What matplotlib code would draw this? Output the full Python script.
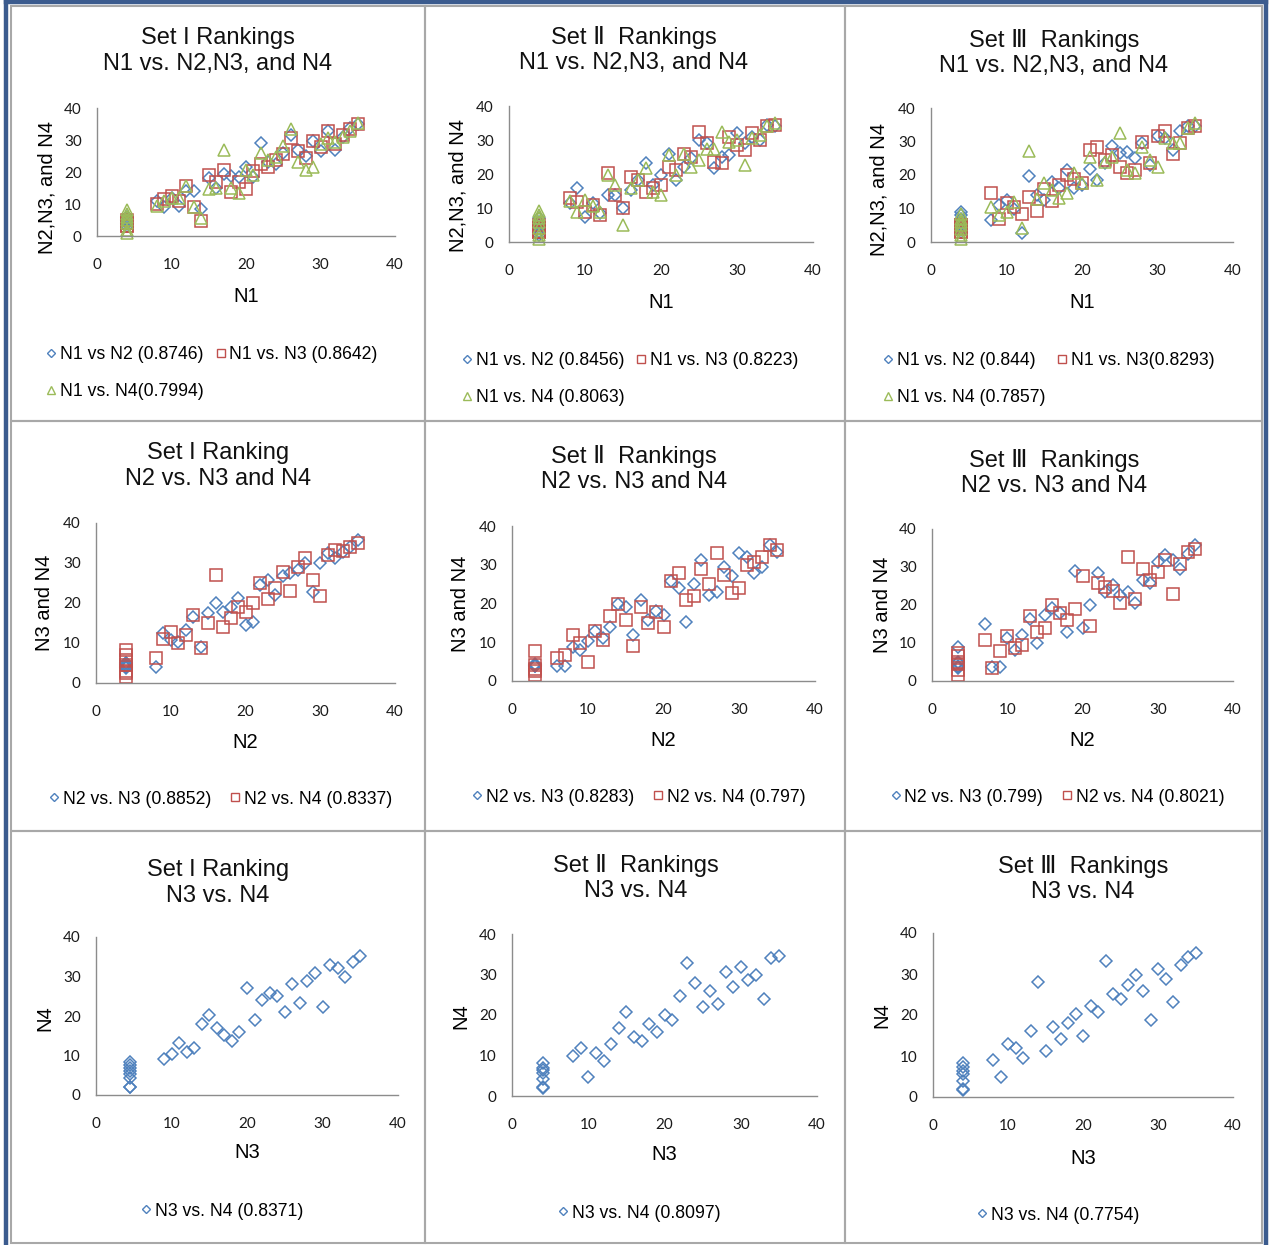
import matplotlib
matplotlib.use('Agg')
import matplotlib.pyplot as plt
from matplotlib.patches import Rectangle
from matplotlib.lines import Line2D

# ---------------- data (rankings) ----------------
# row 1 : N1 vs N2, N3, N4
set1_n1 = [4, 4, 4, 4, 4, 4, 4, 8, 9, 10, 11, 12, 13, 14, 15, 16, 17, 18, 19, 20, 21,
           22, 23, 24, 25, 26, 27, 28, 29, 30, 31, 32, 33, 34, 35]
set1_n1_n2 = [6, 5, 5, 4, 4, 3, 5, 11, 9, 12, 9.5, 14, 14, 8.5, 18, 15, 19.5, 18.7, 18.5, 21.5,
              18.5, 29, 23, 22.6, 26, 31.6, 27, 25, 29.7, 26.6, 32.8, 27, 31, 33.8, 35]
set1_n1_n3 = [4, 3, 4, 5, 3, 4, 4, 10, 11.5, 12.5, 11, 15.6, 9, 4.7, 19, 17, 20.5, 13.7, 17, 14.7,
              20.3, 22.6, 21.5, 23.6, 25.7, 30.7, 26.6, 24.5, 29.7, 27.8, 32.8, 28.8, 31.6, 33.3, 34.9]
set1_n1_n4 = [8, 7, 6, 5, 4, 2, 1, 9.4, 11, 12, 12, 15.6, 9, 5.7, 14.6, 15, 26.8, 15, 13.5, 20.5,
              19, 26, 23.6, 24.7, 28, 33.3, 23, 20.5, 21.5, 28.8, 30.7, 29.3, 31, 32.8, 35.4]

set2_n1 = [4, 4, 4, 4, 4, 4, 4, 8, 9, 10, 11, 12, 13, 14, 15, 16, 17, 18, 19, 20, 21,
           22, 23, 24, 25, 26, 27, 28, 29, 30, 31, 32, 33, 34, 35]
set2_n1_n2 = [7, 6, 5, 4, 3, 3, 2, 11.4, 15.8, 7.5, 11.4, 8.4, 13.8, 13.8, 9.9, 15.3, 18.2, 23.1, 16.8,
              19.7, 26, 18.2, 22, 24.6, 30, 29, 21.7, 25, 25.6, 32, 29, 31, 30, 34.4, 34]
set2_n1_n3 = [5, 4, 4, 3, 3, 4, 3, 12.8, 11.9, 8.9, 10.9, 7.9, 20.2, 13.8, 9.9, 19.2, 18.2, 14.8, 15.8,
              16.8, 22.2, 21.2, 26, 25, 32.5, 29, 23.6, 23.1, 31, 28.5, 27, 32, 30, 34, 34.4]
set2_n1_n4 = [9, 8, 7, 6, 4, 2, 1, 12, 8.9, 12.4, 10.5, 8.9, 19.7, 16.8, 5, 15.8, 18.2, 21.7, 14.8,
              13.8, 25.6, 19.7, 26, 22.2, 24, 27.5, 27.5, 32.5, 29.5, 30, 22.6, 30.5, 31.5, 34, 35]

set3_n1 = [4, 4, 4, 4, 4, 4, 4, 8, 9, 10, 11, 12, 13, 14, 15, 16, 17, 18, 19, 20, 21,
           22, 23, 24, 25, 26, 27, 28, 29, 30, 31, 32, 33, 34, 35]
set3_n1_n2 = [9, 8, 7, 6, 5, 4, 3, 6.5, 11, 12.5, 10, 2.8, 19.8, 14, 12.5, 18, 16, 21.5, 16, 17,
              21.7, 18.5, 23.5, 28.8, 26.5, 27, 25, 29.5, 23, 31.5, 31, 27.5, 33, 34.5, 34.5]
set3_n1_n3 = [5, 4.5, 4, 3, 4, 3, 5, 14.7, 7, 11.7, 10.5, 8.5, 13.3, 9.2, 15.8, 12.2, 17, 20, 18.8,
              17.7, 27.5, 28.5, 24.5, 26, 22.5, 20.5, 21.5, 30, 23.5, 31.5, 33, 26.3, 29.7, 34, 34.7]
set3_n1_n4 = [8.5, 7, 6, 5, 4, 2, 1, 10.5, 8, 9, 12, 4.2, 27.3, 12.7, 17.5, 15.5, 13, 14.5, 20.5,
              17.5, 25.5, 18.5, 23.8, 25.5, 32.5, 21.5, 20.5, 28.5, 24.5, 22.5, 31, 29.5, 29.7, 34, 35.5]

# row 2 : N2 vs N3, N4
set1_n2 = [4, 4, 4, 4, 4, 4, 4, 8, 9, 10, 11, 12, 13, 14, 15, 16, 17, 18, 19, 20, 21,
           22, 23, 24, 25, 26, 27, 28, 29, 30, 31, 32, 33, 34, 35]
set1_n2_n3 = [5, 4.5, 4, 4, 3.7, 5, 4.5, 4, 12.4, 10.7, 10.3, 13.2, 16.6, 9, 17.4, 20, 17.8, 19,
              21.2, 14.5, 15.3, 24.5, 25.7, 22, 26.7, 27.4, 28.2, 30, 22.8, 30, 32.4, 31.2, 32.8, 34, 35.8]
set1_n2_n4 = [8.2, 7, 5.7, 4.5, 3, 1.6, 2.5, 6.2, 11, 12.8, 10, 12, 17, 8.7, 15, 27, 14, 16.2,
              19, 17.8, 20, 25, 21, 23.7, 27.8, 23, 29, 31.2, 25.7, 21.7, 32, 33.2, 33, 34, 35]

set2_n2 = [3, 3, 3, 3, 3, 6, 7, 8, 9, 10, 11, 12, 13, 14, 15, 16, 17, 18, 19, 20, 21,
           22, 23, 24, 25, 26, 27, 28, 29, 30, 31, 32, 33, 34, 35]
set2_n2_n3 = [4.2, 4.5, 4, 3.8, 4.2, 3.8, 3.8, 8.9, 8, 10.2, 12.8, 11, 14, 20, 19.2, 12, 21, 15.8,
              18, 17, 25.7, 24, 15.1, 25, 31.2, 22.2, 23, 29.4, 27.2, 33, 32, 27.8, 29.5, 35, 33.4]
set2_n2_n4 = [7.8, 4.2, 1.6, 3, 2.5, 5.9, 6.8, 12, 9.8, 4.8, 12.8, 10.6, 16.8, 20, 15.8, 9.1, 19, 15,
              17.7, 14, 25.7, 27.8, 21, 22, 29, 25, 33, 27.4, 22.8, 24, 30, 30.8, 32, 35, 33.8]

set3_n2 = [3.5, 3.5, 3.5, 3.5, 3.5, 3.5, 7, 8, 9, 10, 11, 12, 13, 14, 15, 16, 17, 18, 19, 20, 21,
           22, 23, 24, 25, 26, 27, 28, 29, 30, 31, 32, 33, 34, 35]
set3_n2_n3 = [9, 4.7, 3.4, 4, 3.8, 5, 15, 3.8, 3.8, 11.3, 8.2, 12.1, 16.2, 10, 17.4, 19.1, 17.8, 13,
              28.9, 13.9, 20, 28.3, 23.3, 25.2, 22.6, 23.3, 20.4, 26.7, 25.7, 31.2, 33.1, 31.8, 29.6, 33.5, 35.7]
set3_n2_n4 = [7.3, 6.5, 5, 1.7, 3, 4.5, 10.8, 3.4, 8, 11.9, 8.6, 9.5, 17, 13, 13.9, 20, 17.8, 16,
              19, 27.7, 14.6, 25.7, 24.8, 23.7, 20.6, 32.7, 21.7, 29.6, 26.5, 28.7, 31.8, 22.8, 30.9, 34, 34.8]

# row 3 : N3 vs N4
set1_n3 = [4.5, 4.5, 4.5, 4.5, 4.5, 4.5, 4.5, 4.5, 9, 10, 11, 12, 13, 14, 15, 16, 17, 18, 19, 20,
           21, 22, 23, 24, 25, 26, 27, 28, 29, 30, 31, 32, 33, 34, 35]
set1_n3_n4 = [8.4, 7.5, 6.8, 6, 5.2, 4.4, 2, 1.9, 9, 10.3, 13.2, 10.9, 11.8, 18.1, 20.3, 17, 15.2,
              13.7, 16, 27.2, 19, 24, 25.8, 25.1, 21.1, 28.1, 23.2, 28.9, 30.8, 22.4, 32.8, 32.1, 30, 33.6, 35.1]

set2_n3 = [4, 4, 4, 4, 4, 4, 4, 8, 9, 10, 11, 12, 13, 14, 15, 16, 17, 18, 19, 20, 21,
           22, 23, 24, 25, 26, 27, 28, 29, 30, 31, 32, 33, 34, 35]
set2_n3_n4 = [8.1, 6.8, 6.4, 5.6, 4.1, 2.1, 1.9, 9.9, 11.8, 4.8, 10.7, 8.7, 12.8, 16.7, 20.8, 14.6,
              13.7, 17.9, 15.9, 20, 18.8, 24.8, 32.8, 27.8, 21.9, 25.9, 22.7, 30.7, 27, 31.9, 28.6, 29.9, 24, 34, 34.6]

set3_n3 = [4, 4, 4, 4, 4, 4, 4, 8, 9, 10, 11, 12, 13, 14, 15, 16, 17, 18, 19, 20, 21,
           22, 23, 24, 25, 26, 27, 28, 29, 30, 31, 32, 33, 34, 35]
set3_n3_n4 = [8.3, 7.3, 6.3, 5.7, 3.8, 2, 1.6, 9.1, 5, 13, 12, 9.5, 16, 28, 11.1, 17, 14.1, 18, 20.2,
              15, 22.1, 20.7, 33.1, 25.1, 23.9, 27.2, 29.8, 25.9, 18.9, 31.1, 28.9, 23.2, 32.3, 34.1, 35.1]

titles = [
    ['Set I Rankings\nN1 vs. N2,N3, and N4', 'Set Ⅱ  Rankings\nN1 vs. N2,N3, and N4',
     'Set Ⅲ  Rankings\nN1 vs. N2,N3, and N4'],
    ['Set I Ranking\nN2 vs. N3 and N4', 'Set Ⅱ  Rankings\nN2 vs. N3 and N4',
     'Set Ⅲ  Rankings\nN2 vs. N3 and N4'],
    ['Set I Ranking\nN3 vs. N4', 'Set Ⅱ  Rankings\nN3 vs. N4', 'Set Ⅲ  Rankings\nN3 vs. N4'],
]
xlabels = ['N1', 'N2', 'N3']
ylabels = ['N2,N3, and N4', 'N3 and N4', 'N4']

series = [
    [(set1_n1, [set1_n1_n2, set1_n1_n3, set1_n1_n4], ['N1 vs N2 (0.8746)', 'N1 vs. N3 (0.8642)', 'N1 vs. N4(0.7994)']),
     (set2_n1, [set2_n1_n2, set2_n1_n3, set2_n1_n4], ['N1 vs. N2 (0.8456)', 'N1 vs. N3 (0.8223)', 'N1 vs. N4 (0.8063)']),
     (set3_n1, [set3_n1_n2, set3_n1_n3, set3_n1_n4], ['N1 vs. N2 (0.844)', 'N1 vs. N3(0.8293)', 'N1 vs. N4 (0.7857)'])],
    [(set1_n2, [set1_n2_n3, set1_n2_n4], ['N2 vs. N3 (0.8852)', 'N2 vs. N4 (0.8337)']),
     (set2_n2, [set2_n2_n3, set2_n2_n4], ['N2 vs. N3 (0.8283)', 'N2 vs. N4 (0.797)']),
     (set3_n2, [set3_n2_n3, set3_n2_n4], ['N2 vs. N3 (0.799)', 'N2 vs. N4 (0.8021)'])],
    [(set1_n3, [set1_n3_n4], ['N3 vs. N4 (0.8371)']),
     (set2_n3, [set2_n3_n4], ['N3 vs. N4 (0.8097)']),
     (set3_n3, [set3_n3_n4], ['N3 vs. N4 (0.7754)'])],
]

# ---------------- layout (pixels of the 1272x1245 picture) ----------------
W, H = 1272, 1245
NARROW = ['Liberation Sans Narrow', 'Liberation Sans', 'DejaVu Sans']
TICKF = ['Lato', 'DejaVu Sans']
BLUE, RED, GREEN = '#4F81BD', '#C0504D', '#9BBB59'
styles = [('D', BLUE, 6.4, 4.0), ('s', RED, 8.8, 5.6), ('^', GREEN, 9.2, 5.8)]

# plot area: left, right, top, bottom
axes_px = [[(97, 395, 108, 236), (509, 813, 106, 242), (931, 1233, 108, 242)],
           [(96, 395, 523, 683), (512, 815, 526, 681), (932, 1233, 529, 681)],
           [(96, 398, 937, 1095), (512, 817, 934, 1096), (933, 1233, 933, 1097)]]
title_xy = [[(218, 51), (634, 50), (1054, 53)],
            [(218, 466), (634, 469), (1054, 473)],
            [(218, 883), (636, 878), (1083, 879)]]
xlab_y = [[297, 302, 303], [742, 740, 741], [1153, 1155, 1158]]
ylab_xy = [[(47, 187), (458, 186), (879, 189)],
           [(45, 603), (461, 604), (882, 605)],
           [(45, 1018), (461, 1016), (882, 1015)]]
# legend anchor: row 1 upper-left, other rows centre
leg_xy = [[(45, 346), (461, 352), (882, 352)],
          [(220, 799), (638, 797), (1057, 797)],
          [(222, 1211), (639, 1213), (1058, 1215)]]

fig = plt.figure(figsize=(W / 100, H / 100), dpi=100)


def fx(px):
    return px / W


def fy(py):
    return 1 - py / H


# panel frames
xs = [11, 425, 845, 1262]
ys = [6, 421, 831, 1243]
for r in range(3):
    for c in range(3):
        fig.patches.append(Rectangle((fx(xs[c]), fy(ys[r + 1])), fx(xs[c + 1] - xs[c]),
                                     (ys[r + 1] - ys[r]) / H, transform=fig.transFigure,
                                     fill=False, edgecolor='#a8a8a8', lw=1.5))
# outer dark blue frame (left, top, right)
for x0, y0, x1, y1 in [(6, 2, 6, 1245), (6, 2, 1266, 2), (1266, 2, 1266, 1245)]:
    fig.add_artist(Line2D([fx(x0), fx(x1)], [fy(y0), fy(y1)], transform=fig.transFigure,
                          color='#3b5b8e', lw=3.2))

for r in range(3):
    for c in range(3):
        l, rt, t, b = axes_px[r][c]
        ax = fig.add_axes([fx(l), fy(b), (rt - l) / W, (b - t) / H])
        xvals, ylists, labels = series[r][c]
        handles = []
        for k, yv in enumerate(ylists):
            m, col, ms, lms = styles[k]
            ax.plot(xvals, yv, ls='none', marker=m, mfc='none', mec=col, ms=ms, mew=1.1, clip_on=False)
            handles.append(Line2D([], [], ls='none', marker=m, mfc='none', mec=col, ms=lms, mew=1.0))
        ax.set_xlim(0, 40)
        ax.set_ylim(0, 40)
        ax.set_xticks([0, 10, 20, 30, 40])
        ax.set_yticks([0, 10, 20, 30, 40])
        for s in ['top', 'right']:
            ax.spines[s].set_visible(False)
        for s in ['left', 'bottom']:
            ax.spines[s].set_color('#8c8c8c')
            ax.spines[s].set_linewidth(1.0)
        ax.tick_params(length=0, labelsize=11, colors='#1a1a1a')
        ax.tick_params(axis='x', pad=16)
        ax.tick_params(axis='y', pad=11)
        for lab in ax.get_xticklabels() + ax.get_yticklabels():
            lab.set_family(TICKF)
        ax.patch.set_visible(False)

        # titles and axis labels
        tx, ty = title_xy[r][c]
        fig.text(fx(tx), fy(ty), titles[r][c], ha='center', va='center', fontsize=17,
                 family=NARROW, linespacing=1.2, color='#111111')
        fig.text(fx((l + rt) / 2), fy(xlab_y[r][c]), xlabels[r], ha='center', va='center',
                 fontsize=14.5, family=NARROW)
        yx, yy = ylab_xy[r][c]
        fig.text(fx(yx), fy(yy), ylabels[r], ha='center', va='center', rotation=90,
                 fontsize=14.5, family=NARROW)

        # legend
        lx, ly = leg_xy[r][c]
        prop = {'family': NARROW, 'size': 12.7}
        if r == 0:
            order = [0, 2, 1]
            ax.legend([handles[i] for i in order], [labels[i] for i in order], ncol=2,
                      loc='upper left', bbox_to_anchor=(fx(lx), fy(ly)), bbox_transform=fig.transFigure,
                      frameon=False, prop=prop, handlelength=0.7, handletextpad=0.15,
                      columnspacing=0.6, labelspacing=1.15, borderpad=0, borderaxespad=0)
        else:
            ax.legend(handles, labels, ncol=len(handles), loc='center',
                      bbox_to_anchor=(fx(lx), fy(ly)), bbox_transform=fig.transFigure,
                      frameon=False, prop=prop, handlelength=0.7, handletextpad=0.15,
                      columnspacing=1.0, borderpad=0, borderaxespad=0)

fig.savefig('out.png', dpi=100)
